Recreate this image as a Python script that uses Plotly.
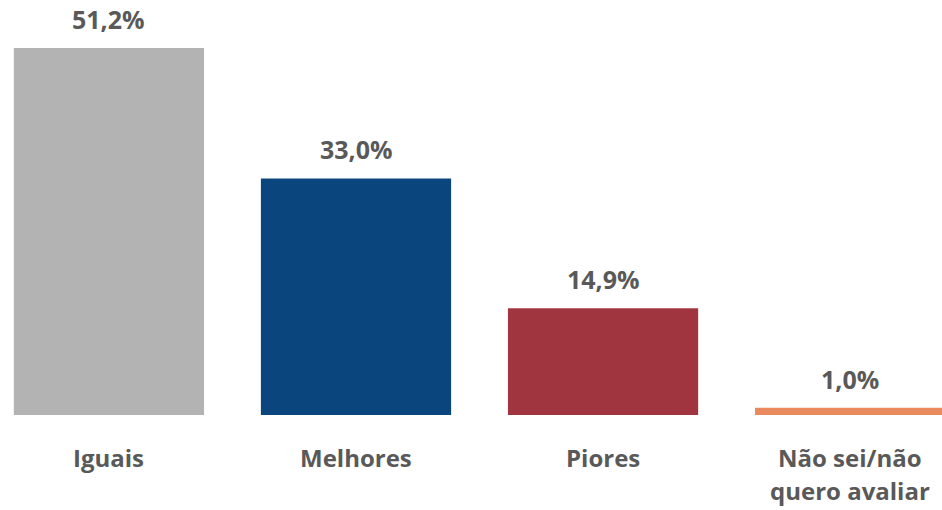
import plotly.graph_objects as go

# Survey answer shares (%)
categories = ["Iguais", "Melhores", "Piores", "Não sei/não|quero avaliar"]
values = [51.2, 33.0, 14.9, 1.0]
value_labels = ["51,2%", "33,0%", "14,9%", "1,0%"]
bar_colors = ["#B3B3B3", "#0B457D", "#A0353F", "#E98A5E"]

TEXT_COLOR = "#595959"
FONT = "Segoe UI, Open Sans, Noto Sans, sans-serif"

x_pos = list(range(len(categories)))

fig = go.Figure(
    go.Bar(
        x=x_pos,
        y=values,
        width=0.77,
        marker=dict(color=bar_colors, line=dict(width=0)),
        hoverinfo="skip",
    )
)

annotations = []
# value labels above each bar
for xi, v, lab in zip(x_pos, values, value_labels):
    annotations.append(dict(
        x=xi, y=v, xref="x", yref="y", text=f"<b>{lab}</b>",
        showarrow=False, yanchor="bottom", yshift=10,
        font=dict(family=FONT, size=25, color=TEXT_COLOR),
    ))
# category labels under the axis, one annotation per line
for xi, cat in zip(x_pos, categories):
    for li, line in enumerate(cat.split("|")):
        annotations.append(dict(
            x=xi, y=0, xref="x", yref="y", text=f"<b>{line}</b>",
            showarrow=False, yanchor="middle", yshift=-42 - 33 * li,
            font=dict(family=FONT, size=24, color=TEXT_COLOR),
        ))

fig.update_layout(
    width=942, height=510,
    margin=dict(l=0, r=0, t=0, b=95),
    paper_bgcolor="white", plot_bgcolor="white",
    showlegend=False,
    xaxis=dict(range=[-0.441, 3.372], visible=False, fixedrange=True),
    yaxis=dict(range=[0, 57.9], visible=False, fixedrange=True),
    annotations=annotations,
)

fig.write_html("out.html", config={"displayModeBar": False})
